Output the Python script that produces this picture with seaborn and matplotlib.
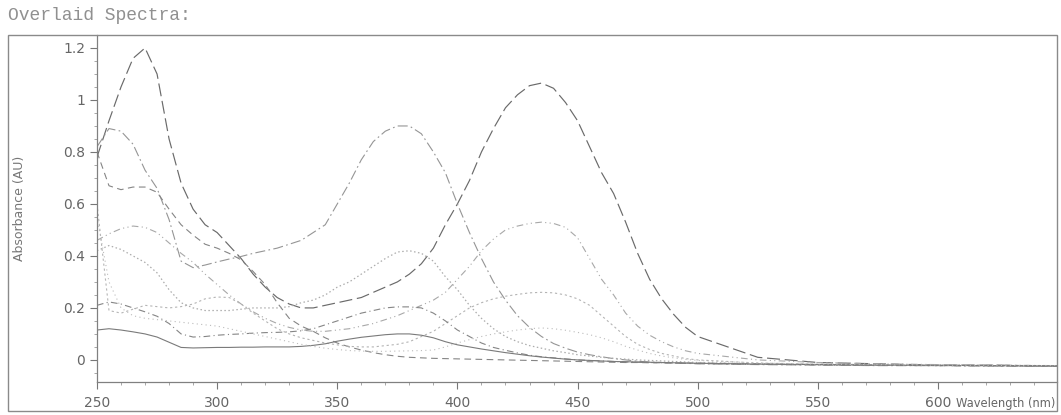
import numpy as np
import matplotlib
matplotlib.use("Agg")
import matplotlib.pyplot as plt
from matplotlib.patches import Rectangle
from matplotlib.ticker import MultipleLocator
import seaborn as sns

# ---------------- data ----------------
wavelength = [250, 255, 260, 265, 270, 275, 280, 285, 290, 295,
              300, 305, 310, 315, 320, 325, 330, 335, 340, 345,
              350, 355, 360, 365, 370, 375, 380, 385, 390, 395,
              400, 405, 410, 415, 420, 425, 430, 435, 440, 445,
              450, 455, 460, 465, 470, 475, 480, 485, 490, 495,
              500, 525, 550, 575, 600, 625, 650]

spec_a = [0.78, 0.92, 1.05, 1.16, 1.20, 1.10, 0.85, 0.68, 0.58, 0.52,
          0.49, 0.44, 0.39, 0.33, 0.28, 0.24, 0.215, 0.20, 0.20, 0.21,
          0.22, 0.23, 0.24, 0.26, 0.28, 0.30, 0.33, 0.37, 0.43, 0.52,
          0.60, 0.69, 0.80, 0.89, 0.97, 1.02, 1.055, 1.065, 1.045, 0.99,
          0.92, 0.82, 0.72, 0.64, 0.53, 0.41, 0.31, 0.235, 0.175, 0.125,
          0.09, 0.01, -0.01, -0.015, -0.02, -0.02, -0.025]

spec_b = [0.82, 0.89, 0.88, 0.83, 0.73, 0.66, 0.54, 0.38, 0.355, 0.365,
          0.377, 0.388, 0.398, 0.41, 0.42, 0.43, 0.445, 0.46, 0.49, 0.52,
          0.60, 0.68, 0.77, 0.84, 0.88, 0.90, 0.90, 0.87, 0.80, 0.72,
          0.60, 0.49, 0.39, 0.30, 0.23, 0.17, 0.125, 0.09, 0.063, 0.045,
          0.03, 0.02, 0.012, 0.005, 0.0, -0.005, -0.008, -0.01, -0.012, -0.013,
          -0.015, -0.018, -0.02, -0.022, -0.022, -0.024, -0.025]

spec_c = [0.80, 0.67, 0.655, 0.665, 0.665, 0.645, 0.58, 0.52, 0.48, 0.445,
          0.43, 0.41, 0.385, 0.34, 0.29, 0.22, 0.16, 0.13, 0.11, 0.085,
          0.065, 0.05, 0.038, 0.028, 0.02, 0.014, 0.01, 0.008, 0.006, 0.005,
          0.004, 0.003, 0.002, 0.001, 0.0, -0.001, -0.002, -0.003, -0.004, -0.005,
          -0.006, -0.007, -0.008, -0.009, -0.01, -0.01, -0.011, -0.011, -0.012, -0.012,
          -0.012, -0.015, -0.018, -0.02, -0.021, -0.022, -0.023]

spec_d = [0.46, 0.485, 0.505, 0.515, 0.51, 0.49, 0.45, 0.41, 0.375, 0.33,
          0.29, 0.25, 0.215, 0.185, 0.16, 0.14, 0.125, 0.115, 0.11, 0.11,
          0.115, 0.12, 0.13, 0.14, 0.155, 0.17, 0.19, 0.21, 0.23, 0.26,
          0.31, 0.36, 0.42, 0.465, 0.50, 0.515, 0.525, 0.53, 0.525, 0.51,
          0.47, 0.39, 0.31, 0.25, 0.18, 0.13, 0.095, 0.07, 0.05, 0.035,
          0.025, 0.0, -0.01, -0.015, -0.018, -0.02, -0.022]

spec_e = [0.42, 0.44, 0.425, 0.40, 0.375, 0.335, 0.27, 0.22, 0.20, 0.19,
          0.19, 0.19, 0.195, 0.20, 0.20, 0.20, 0.205, 0.22, 0.23, 0.25,
          0.28, 0.30, 0.33, 0.36, 0.39, 0.415, 0.42, 0.41, 0.38, 0.32,
          0.27, 0.21, 0.16, 0.12, 0.09, 0.07, 0.055, 0.045, 0.035, 0.028,
          0.02, 0.015, 0.01, 0.006, 0.003, 0.0, -0.002, -0.004, -0.006, -0.008,
          -0.01, -0.015, -0.018, -0.02, -0.022, -0.022, -0.024]

spec_f = [0.60, 0.19, 0.18, 0.195, 0.21, 0.205, 0.20, 0.205, 0.215, 0.235,
          0.242, 0.24, 0.215, 0.18, 0.15, 0.12, 0.10, 0.085, 0.075, 0.065,
          0.058, 0.052, 0.05, 0.05, 0.055, 0.06, 0.07, 0.09, 0.11, 0.14,
          0.17, 0.20, 0.22, 0.235, 0.245, 0.252, 0.258, 0.26, 0.258, 0.25,
          0.235, 0.21, 0.17, 0.13, 0.09, 0.06, 0.04, 0.025, 0.015, 0.005,
          0.0, -0.012, -0.016, -0.018, -0.02, -0.021, -0.022]

spec_g = [0.21, 0.223, 0.215, 0.20, 0.185, 0.168, 0.14, 0.10, 0.088, 0.09,
          0.095, 0.098, 0.10, 0.103, 0.105, 0.106, 0.108, 0.112, 0.12, 0.135,
          0.15, 0.165, 0.18, 0.19, 0.20, 0.204, 0.204, 0.20, 0.18, 0.15,
          0.115, 0.09, 0.065, 0.048, 0.037, 0.027, 0.018, 0.012, 0.008, 0.004,
          0.0, -0.002, -0.004, -0.006, -0.008, -0.009, -0.01, -0.011, -0.012, -0.013,
          -0.014, -0.017, -0.019, -0.021, -0.022, -0.023, -0.024]

spec_h = [0.115, 0.12, 0.115, 0.108, 0.10, 0.088, 0.068, 0.048, 0.046, 0.047,
          0.048, 0.048, 0.049, 0.049, 0.05, 0.05, 0.05, 0.052, 0.056, 0.062,
          0.072, 0.08, 0.087, 0.092, 0.097, 0.10, 0.10, 0.095, 0.085, 0.07,
          0.058, 0.05, 0.042, 0.035, 0.028, 0.022, 0.016, 0.011, 0.007, 0.003,
          0.0, -0.002, -0.004, -0.006, -0.007, -0.008, -0.009, -0.01, -0.011, -0.012,
          -0.013, -0.016, -0.018, -0.02, -0.021, -0.022, -0.023]

spec_i = [0.55, 0.30, 0.20, 0.17, 0.16, 0.155, 0.15, 0.145, 0.14, 0.135,
          0.13, 0.12, 0.11, 0.10, 0.09, 0.08, 0.07, 0.06, 0.052, 0.045,
          0.04, 0.036, 0.034, 0.033, 0.033, 0.034, 0.035, 0.036, 0.038, 0.05,
          0.065, 0.078, 0.09, 0.10, 0.108, 0.115, 0.12, 0.123, 0.12, 0.114,
          0.106, 0.097, 0.085, 0.07, 0.052, 0.038, 0.025, 0.015, 0.008, 0.002,
          -0.002, -0.012, -0.016, -0.018, -0.02, -0.021, -0.022]

x_ticks = [250, 300, 350, 400, 450, 500, 550, 600]
x_tick_labels = ["250", "300", "350", "400", "450", "500", "550", "600"]
y_ticks = [0, 0.2, 0.4, 0.6, 0.8, 1.0, 1.2]
y_tick_labels = ["0", "0.2", "0.4", "0.6", "0.8", "1", "1.2"]

title_text = "Overlaid Spectra:"
x_label = "Wavelength (nm)"
y_label = "Absorbance (AU)"

# ---------------- styling ----------------
sns.set_theme(style="white")
plt.rcParams["font.family"] = ["DejaVu Sans"]

series = [
    (spec_a, "#6a6a6a", (0, (11, 4)), 0.85),
    (spec_b, "#959595", (0, (9, 3, 1.5, 3)), 0.8),
    (spec_c, "#858585", (0, (6, 4)), 0.8),
    (spec_d, "#a8a8a8", (0, (6, 3, 1, 3, 1, 3)), 0.8),
    (spec_e, "#acacac", (0, (1.2, 2)), 0.9),
    (spec_f, "#b4b4b4", (0, (2, 2.5)), 0.8),
    (spec_g, "#858585", (0, (6, 3, 1, 3)), 0.8),
    (spec_h, "#7a7a7a", "-", 0.8),
    (spec_i, "#bcbcbc", (0, (1, 3)), 0.8),
]

fig = plt.figure(figsize=(10.61, 4.15), dpi=100)
ax = fig.add_axes([0.0914, 0.0795, 0.9048, 0.8362])

for vals, col, ls, lw in series:
    sns.lineplot(x=wavelength, y=vals, ax=ax, color=col, linestyle=ls,
                 linewidth=lw, legend=False)

ax.set_xlim(250, 649.5)
ax.set_ylim(-0.085, 1.25)

ax.set_xticks(x_ticks)
ax.set_xticklabels(x_tick_labels)
ax.set_yticks(y_ticks)
ax.set_yticklabels(y_tick_labels)
ax.xaxis.set_minor_locator(MultipleLocator(10))
ax.yaxis.set_minor_locator(MultipleLocator(0.05))

ax.tick_params(axis="both", which="major", direction="out", length=5,
               width=0.8, color="#777777", labelsize=10, labelcolor="#666666",
               bottom=True, left=True)
ax.tick_params(axis="x", which="major", pad=5)
ax.tick_params(axis="both", which="minor", direction="out", length=2.5,
               width=0.6, color="#999999", bottom=True, left=True)

for side in ["top", "right"]:
    ax.spines[side].set_visible(False)
for side in ["left", "bottom"]:
    ax.spines[side].set_color("#808080")
    ax.spines[side].set_linewidth(0.9)

ax.set_xlabel("")
ax.set_ylabel(y_label, fontsize=9, color="#777777")
ax.yaxis.set_label_coords(-0.074, 0.5)

# x label at right end, aligned with tick labels
ax.text(0.9985, -0.044, x_label, transform=ax.transAxes, ha="right",
        va="top", fontsize=8.3, color="#666666")

# outer frame
fig.add_artist(Rectangle((8 / 1061, 1 - 411 / 415), (1057 - 8) / 1061,
                         (411 - 35) / 415, transform=fig.transFigure,
                         fill=False, edgecolor="#8a8a8a", linewidth=1.0))

fig.text(8 / 1061, 1 - 16 / 415, title_text, family="Liberation Mono",
         fontsize=13, color="#909090", ha="left", va="center")

fig.savefig("out.png", dpi=100, facecolor="white")
